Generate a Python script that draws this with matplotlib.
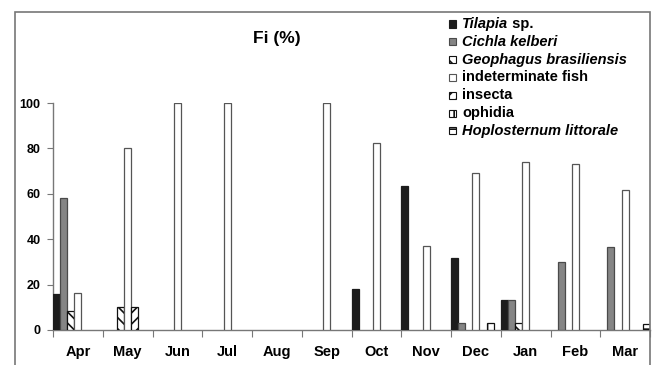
import numpy as np
import matplotlib
matplotlib.use("Agg")
import matplotlib.pyplot as plt
import matplotlib.patches as mpatches

plt.rcParams["font.family"] = ["Liberation Sans", "DejaVu Sans"]
plt.rcParams["hatch.linewidth"] = 1.2

# ── data ──────────────────────────────────────────────────────────────────────
months = ["Apr", "May", "Jun", "Jul", "Aug", "Sep", "Oct", "Nov", "Dec", "Jan", "Feb", "Mar"]

tilapia       = [16, 0, 0, 0, 0, 0, 18, 63.5, 31.5, 13, 0, 0]
cichla        = [58, 0, 0, 0, 0, 0, 0, 0, 3, 13, 30, 36.5]
geophagus     = [8.5, 10, 0, 0, 0, 0, 0, 0, 0, 3, 0, 0]
indeterminate = [16.5, 80, 100, 100, 0, 100, 82.5, 37, 69, 74, 73, 61.5]
insecta       = [0, 10, 0, 0, 0, 0, 0, 0, 0, 0, 0, 0]
ophidia       = [0, 0, 0, 0, 0, 0, 0, 0, 3.2, 0, 0, 0]
hoplosternum  = [0, 0, 0, 0, 0, 0, 0, 0, 0, 0, 0, 2.5]

series = [tilapia, cichla, geophagus, indeterminate, insecta, ophidia, hoplosternum]

# (italic part, plain part) for legend text
labels = [("Tilapia", " sp."), ("Cichla kelberi", ""), ("Geophagus brasiliensis", ""),
          ("", "indeterminate fish"), ("", "insecta"), ("", "ophidia"),
          ("Hoplosternum littorale", "")]

# ── styles ────────────────────────────────────────────────────────────────────
EDGE = "#555555"
styles = [
    dict(color="#1c1c1c", edgecolor="#1c1c1c", hatch=None),
    dict(color="#858585", edgecolor="#4a4a4a", hatch=None),
    dict(color="white", edgecolor="#111111", hatch="\\\\\\"),
    dict(color="white", edgecolor=EDGE, hatch=None),
    dict(color="white", edgecolor="#111111", hatch="///"),
    dict(color="white", edgecolor="#111111", hatch="||"),
    dict(color="white", edgecolor="#111111", hatch="--"),
]

W, H = 655, 365
fig = plt.figure(figsize=(W / 100, H / 100), dpi=100)
ax = fig.add_axes([53 / W, 1 - 330 / H, 597 / W, 227 / H])

n = len(series)
bw = 1.0 / n
x = np.arange(len(months))
for j, (vals, st) in enumerate(zip(series, styles)):
    vals = np.array(vals, dtype=float)
    mask = vals > 0
    ax.bar(x[mask] + (j + 0.5) * bw, vals[mask], width=bw,
           color=st["color"], edgecolor=st["edgecolor"], hatch=st["hatch"],
           linewidth=0.9, zorder=3)

ax.set_xlim(0, len(months))
ax.set_ylim(0, 100)
ax.set_xticks(np.arange(len(months) + 1))
ax.set_xticklabels([])
ax.set_xticks(x + 0.5, minor=True)
ax.set_xticklabels(months, minor=True, fontsize=10.5, fontweight="bold")
ax.tick_params(axis="x", which="minor", length=0, pad=11)
ax.tick_params(axis="x", which="major", direction="out", length=5, color="#777777")
ax.set_yticks([0, 20, 40, 60, 80, 100])
ax.set_yticklabels(["0", "20", "40", "60", "80", "100"], fontsize=9, fontweight="bold")
ax.tick_params(axis="y", direction="out", length=4, color="#777777", pad=5)
ax.spines[["top", "right"]].set_visible(False)
for s in ["left", "bottom"]:
    ax.spines[s].set_color("#777777")
    ax.spines[s].set_linewidth(1.0)

fig.text(277 / W, 1 - 39 / H, "Fi (%)", fontsize=12.5, fontweight="bold",
         ha="center", va="center")

# outer frame
fig.patches.append(mpatches.Rectangle((15 / W, -0.1), 635 / W, 1.1 - 12 / H,
                                      transform=fig.transFigure, fill=False,
                                      edgecolor="#777777", linewidth=1.2))

# legend, drawn by hand so species names can be italic
renderer = fig.canvas.get_renderer()
y0, dy = 24, 17.8
for k, ((ital, plain), st) in enumerate(zip(labels, styles)):
    yc = y0 + dy * k
    fig.patches.append(mpatches.Rectangle((449 / W, 1 - (yc + 3.5) / H), 7 / W, 7 / H,
                                          transform=fig.transFigure,
                                          facecolor=st["color"], edgecolor=st["edgecolor"],
                                          hatch=st["hatch"], linewidth=0.8))
    xt = 462 / W
    if ital:
        t = fig.text(xt, 1 - yc / H, ital, fontsize=10.5, fontweight="bold",
                     fontstyle="italic", va="center", ha="left")
        xt = fig.transFigure.inverted().transform(
            (t.get_window_extent(renderer).x1, 0))[0]
    if plain:
        fig.text(xt, 1 - yc / H, plain, fontsize=10.5, fontweight="bold",
                 va="center", ha="left")

fig.savefig("out.png", dpi=100)
